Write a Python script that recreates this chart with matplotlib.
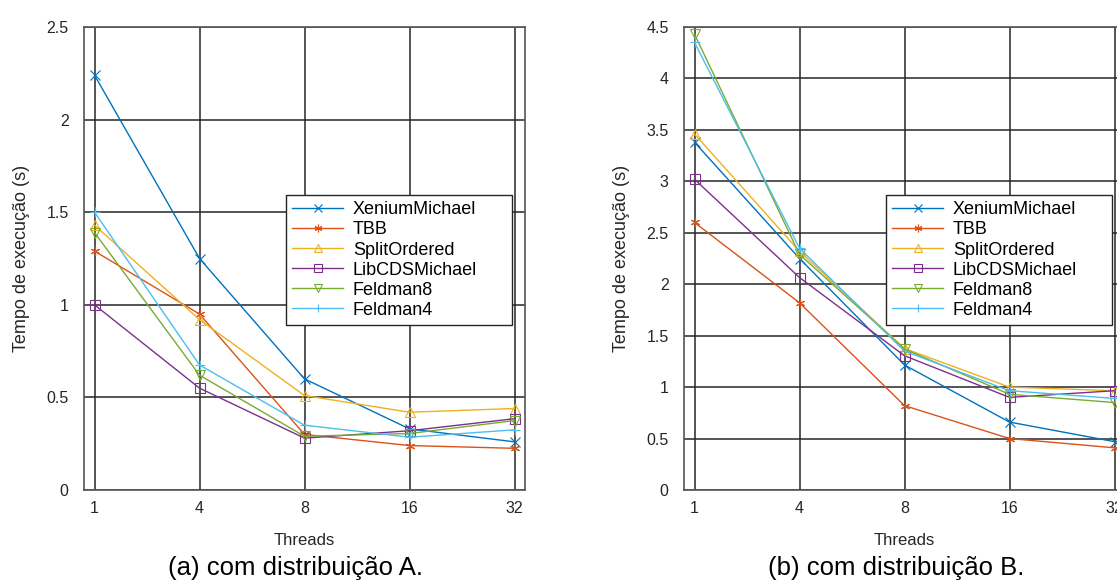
import matplotlib.pyplot as plt

plt.rcParams['font.family'] = ['Liberation Sans', 'DejaVu Sans']

threads = ['1', '4', '8', '16', '32']
series_names = ['XeniumMichael', 'TBB', 'SplitOrdered', 'LibCDSMichael', 'Feldman8', 'Feldman4']

# (a) distribuição A
dist_a_xenium = [2.24, 1.25, 0.60, 0.33, 0.26]
dist_a_tbb = [1.29, 0.95, 0.30, 0.24, 0.225]
dist_a_split = [1.43, 0.92, 0.51, 0.42, 0.44]
dist_a_libcds = [1.00, 0.55, 0.28, 0.32, 0.385]
dist_a_feldman8 = [1.39, 0.62, 0.29, 0.305, 0.375]
dist_a_feldman4 = [1.50, 0.675, 0.35, 0.285, 0.325]

# (b) distribuição B
dist_b_xenium = [3.38, 2.25, 1.215, 0.66, 0.47]
dist_b_tbb = [2.60, 1.82, 0.82, 0.50, 0.41]
dist_b_split = [3.46, 2.32, 1.375, 1.0, 0.965]
dist_b_libcds = [3.02, 2.065, 1.305, 0.90, 0.965]
dist_b_feldman8 = [4.43, 2.29, 1.37, 0.93, 0.85]
dist_b_feldman4 = [4.35, 2.35, 1.35, 0.965, 0.89]

colors = ['#0072BD', '#D95319', '#EDB120', '#7E2F8E', '#77AC30', '#4DBEEE']
markers = ['x', (6, 2, 0), '^', 's', 'v', '+']


def draw_panel(ax, data, ymax, yticks, caption, caption_x):
    pos = range(len(threads))
    for values, name, c, m in zip(data, series_names, colors, markers):
        ax.plot(pos, values, color=c, marker=m, markersize=6.5, linewidth=1.0,
                markerfacecolor='none', markeredgewidth=0.8, label=name)
    ax.set_xlim(-0.1, 4.1)
    ax.set_ylim(0, ymax)
    ax.set_xticks(list(pos))
    ax.set_xticklabels(threads)
    ax.set_yticks(yticks)
    ax.set_yticklabels(['%g' % t for t in yticks])
    ax.tick_params(length=0, labelsize=11.5, colors='#262626', pad=8)
    ax.tick_params(axis='y', pad=11)
    ax.grid(True, color='#262626', linewidth=1.1)
    for s in ax.spines.values():
        s.set_color('#555555')
        s.set_linewidth(1.2)
    ax.set_xlabel('Threads', fontsize=12, color='#262626', labelpad=12)
    ax.set_ylabel('Tempo de execução (s)', fontsize=13, color='#262626', labelpad=12)
    leg = ax.legend(loc='upper left', bbox_to_anchor=(0.458, 0.367, 0.5125, 0.27),
                    mode='expand', borderaxespad=0, markerscale=0.85,
                    fontsize=13, labelspacing=0.17, handlelength=2.8, handletextpad=0.55,
                    borderpad=0.35, fancybox=False, framealpha=1, edgecolor='#262626')
    leg.get_frame().set_linewidth(1.0)
    fig.text(caption_x, 0.022, caption, fontsize=18.5, ha='center', va='baseline')


fig = plt.figure(figsize=(11.17, 5.88), dpi=100)
ax1 = fig.add_axes([84 / 1117, 98 / 588, 441 / 1117, 463 / 588])
ax2 = fig.add_axes([684 / 1117, 98 / 588, 441 / 1117, 463 / 588])

draw_panel(ax1, [dist_a_xenium, dist_a_tbb, dist_a_split, dist_a_libcds, dist_a_feldman8, dist_a_feldman4],
           2.5, [0, 0.5, 1, 1.5, 2, 2.5], '(a) com distribuição A.', 295 / 1117)
draw_panel(ax2, [dist_b_xenium, dist_b_tbb, dist_b_split, dist_b_libcds, dist_b_feldman8, dist_b_feldman4],
           4.5, [0, 0.5, 1, 1.5, 2, 2.5, 3, 3.5, 4, 4.5], '(b) com distribuição B.', 896 / 1117)

fig.savefig('out.png', dpi=100)
